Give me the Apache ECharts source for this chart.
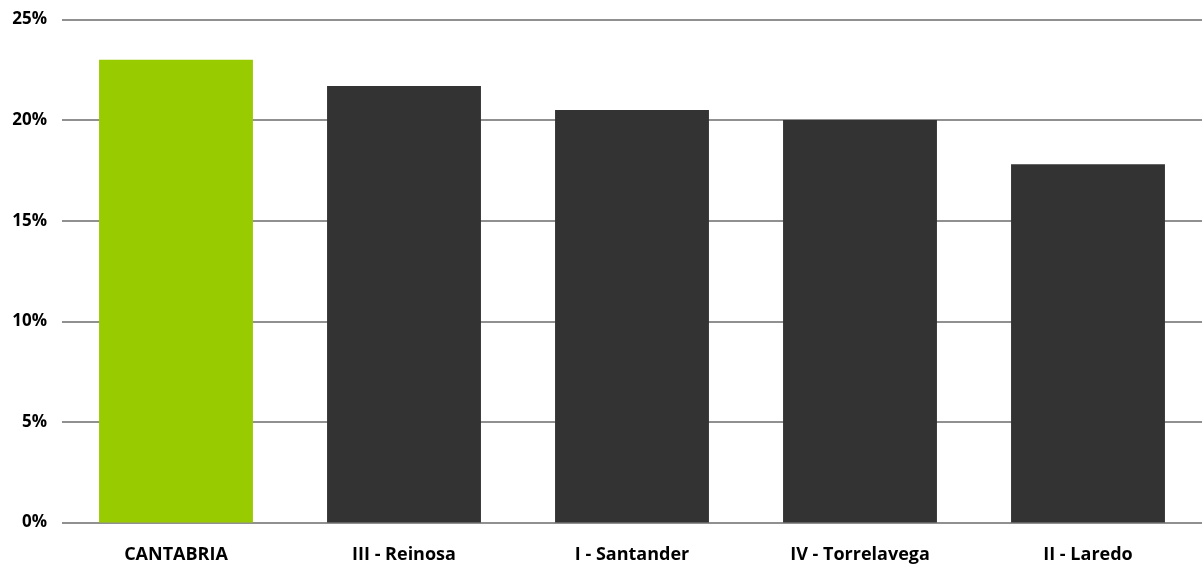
<!DOCTYPE html>
<html>
<head>
<meta charset="utf-8">
<script src="https://cdn.jsdelivr.net/npm/echarts@6/dist/echarts.min.js"></script>
<style>
  html, body { margin: 0; padding: 0; background: #ffffff; }
  #chart { width: 1202px; height: 564px; }
</style>
</head>
<body>
<div id="chart"></div>
<script>
// Share by area (%)
const categories = ['CANTABRIA', 'III - Reinosa', 'I - Santander', 'IV - Torrelavega', 'II - Laredo'];
const values = [23.0, 21.7, 20.5, 20.0, 17.8];
const barColors = ['#99cc00', '#333333', '#333333', '#333333', '#333333'];
const yTicks = [0, 5, 10, 15, 20, 25];

const chart = echarts.init(document.getElementById('chart'), null, { renderer: 'canvas' });

chart.setOption({
  animation: false,
  grid: { left: 62, right: 0, top: 19.5, bottom: 41.5, containLabel: false },
  xAxis: {
    type: 'category',
    data: categories,
    axisLine: { show: false },
    axisTick: { show: false },
    axisLabel: {
      margin: 23,
      color: '#000000',
      fontFamily: 'Open Sans',
      fontWeight: 'bold',
      fontSize: 18
    }
  },
  yAxis: {
    type: 'value',
    min: yTicks[0],
    max: yTicks[yTicks.length - 1],
    interval: 5,
    axisLine: { show: false },
    axisTick: { show: false },
    axisLabel: {
      margin: 15,
      color: '#000000',
      fontFamily: 'Open Sans',
      fontWeight: 'bold',
      fontSize: 17,
      formatter: v => v + '%'
    },
    splitLine: { lineStyle: { color: '#909090', width: 2 } }
  },
  series: [{
    type: 'bar',
    barWidth: '67.5%',
    data: values.map((v, i) => ({ value: v, itemStyle: { color: barColors[i] } }))
  }]
});
</script>
</body>
</html>
